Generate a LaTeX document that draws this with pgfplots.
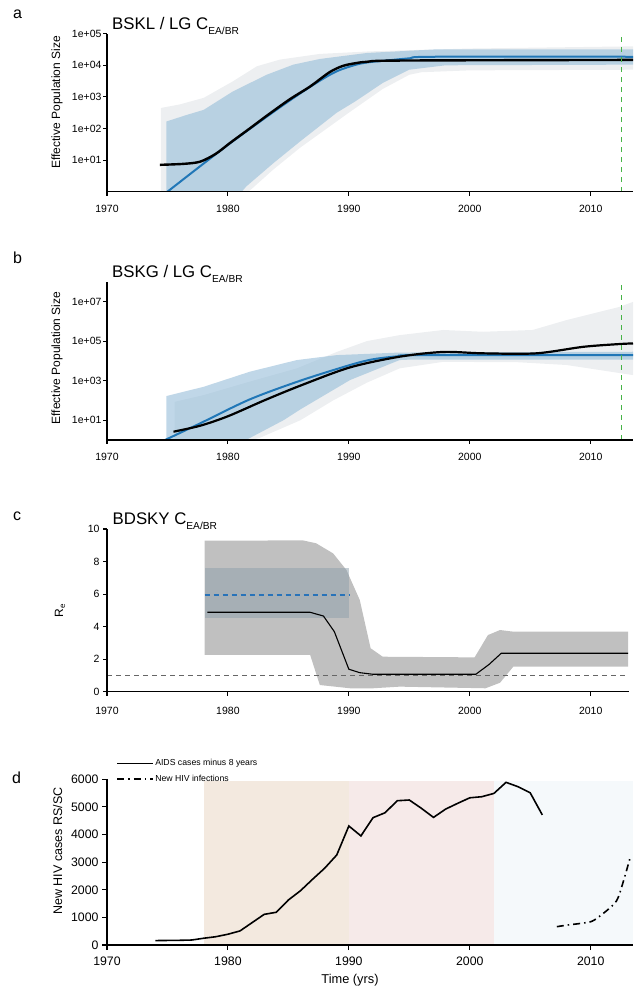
\documentclass[border=0pt]{standalone}
\usepackage{fontspec}
\setmainfont{Liberation Sans}
\usepackage{pgfplots}
\pgfplotsset{compat=1.18}
\definecolor{bandgrey}{RGB}{237,239,241}
\definecolor{bandblue}{RGB}{150,189,217}
\definecolor{lineblue}{RGB}{33,119,183}
\definecolor{vgreen}{RGB}{70,180,70}
\definecolor{cgrey}{RGB}{192,192,192}
\definecolor{cblue}{RGB}{142,160,172}
\definecolor{cdash}{RGB}{40,115,185}
\definecolor{dbeige}{RGB}{243,233,223}
\definecolor{dpink}{RGB}{246,234,233}
\definecolor{dblue}{RGB}{245,249,251}
\pgfplotsset{
 myaxis/.style={
   scale only axis, anchor=south west,
   axis lines=left,
   x axis line style={-}, y axis line style={-},
   axis line style={line width=1.1pt},
   tick align=outside, major tick length=4pt,
   tick style={line width=1.1pt, black},
   xtick={1970,1980,...,2010},
   /pgf/number format/1000 sep={},
   /pgf/number format/assume math mode=true,
   scaled y ticks=false,
   tick label style={font=\fontsize{10.5}{12}\selectfont},
   xticklabel style={yshift=-5.5pt},
   xmin=1970, xmax=2013.5, width=526pt,
   axis on top, clip mode=individual,
 },
}
\tikzset{ttl/.style={anchor=base west, font=\fontsize{16.8}{18}\selectfont, inner sep=0pt}}
\newcommand{\sub}[1]{\raisebox{-5pt}{\fontsize{10.2}{11}\selectfont #1}}
\begin{document}
\begin{tikzpicture}
\useasboundingbox (0,0) rectangle (633pt,988pt);
% ---------------- panel a
\begin{axis}[myaxis, at={(107pt,796.3pt)}, height=158pt,
  ymin=0, ymax=5, ytick={1,2,3,4,5},
  yticklabels={1e+01,1e+02,1e+03,1e+04,1e+05},
  yticklabel style={xshift=2pt},
  ylabel={Effective Population Size},
  ylabel style={at={(axis description cs:-0.095,0.565)}, anchor=center, font=\fontsize{12}{14}\selectfont}]
\addplot[draw=none, fill=bandgrey] coordinates {
 (1974.46,0.1) (1974.46,2.65) (1976.0,2.76) (1978.0,2.97) (1980.4,3.49) (1982.4,3.97) (1984.3,4.18)
 (1987.6,4.36) (1991.7,4.44) (1994.2,4.47) (2000,4.53) (2013.5,4.60)
 (2013.5,3.86) (2000,3.84) (1996,3.78) (1995,3.70) (1992.8,3.25) (1990,2.5) (1986,1.4)
 (1983.75,0.7) (1982,0.1) (1981,-0.2) (1976,-0.2) (1974.46,-0.2)} -- cycle;
\addplot[draw=none, fill=bandblue, fill opacity=0.6] coordinates {
 (1974.9,-0.3) (1974.9,2.22) (1976.6,2.43) (1978,2.59) (1980.4,3.17) (1983.2,3.70) (1985.4,4.02)
 (1987.6,4.2) (1991.5,4.39) (1997,4.5) (2013.5,4.5)
 (2013.5,4.02) (1998,4.0) (1995,3.86) (1992.8,3.44) (1990.5,2.85) (1989,2.5) (1986,1.6)
 (1983.75,0.9) (1981.5,0.16) (1980.5,-0.3)} -- cycle;
\addplot[lineblue, line width=2pt, smooth] coordinates {
 (1974.9,-0.03) (1980.0,1.48) (1984.6,2.75) (1987.3,3.44) (1989,3.81) (1990.6,4.02) (1991.7,4.10)
 (1992.8,4.14) (1995,4.22) (1997,4.27) (2013.5,4.27)};
\addplot[black, line width=2.4pt, smooth] coordinates {
 (1974.38,0.85) (1976.3,0.88) (1977.7,0.95) (1979.0,1.2) (1980.2,1.55) (1981.8,2.0) (1983.2,2.40)
 (1985.1,2.92) (1986.8,3.33) (1988.4,3.78) (1989.5,3.98) (1990.6,4.07) (1991.5,4.11) (1994.2,4.15) (2013.5,4.17)};
\addplot[draw=vgreen, color=vgreen, line width=1.6pt, dash pattern=on 4.5pt off 5.5pt] coordinates {(2012.54,0) (2012.54,5)};
\node[ttl] at (axis description cs:0.0095,1) [yshift=4.4pt] {BSKL / LG C\sub{EA/BR}};
\end{axis}
% ---------------- panel b
\begin{axis}[myaxis, at={(107pt,548pt)}, height=158.3pt,
  ymin=0, ymax=8, ytick={1,3,5,7},
  yticklabels={1e+01,1e+03,1e+05,1e+07},
  yticklabel style={xshift=2pt},
  ylabel={Effective Population Size},
  ylabel style={at={(axis description cs:-0.095,0.518)}, anchor=center, font=\fontsize{12}{14}\selectfont}]
\addplot[draw=none, fill=bandgrey] coordinates {
 (1975.6,-0.3) (1975.6,1.93) (1978,2.27) (1981.8,2.95) (1985.7,3.62) (1989,4.45) (1991.5,5.0)
 (1994.2,5.30) (1997.8,5.56) (2001.1,5.47) (2005.2,5.56) (2008,6.06) (2012.4,6.73) (2013.5,6.98)
 (2013.5,3.28) (2008,3.79) (2004,3.93) (1997.8,3.95) (1994.2,3.62) (1991.5,2.9) (1988.7,2.0)
 (1986,1.0) (1982.6,0.1) (1980,-0.3)} -- cycle;
\addplot[draw=none, fill=bandblue, fill opacity=0.6] coordinates {
 (1974.9,-0.3) (1974.9,2.22) (1978,2.69) (1981.8,3.45) (1985.7,4.04) (1989,4.29) (1994.2,4.42) (2013.5,4.46)
 (2013.5,4.06) (1995,4.06) (1994.2,4.04) (1990.1,3.03) (1986,1.55) (1984.6,1.0) (1981.5,0) (1980.5,-0.3)} -- cycle;
\addplot[lineblue, line width=2pt, smooth] coordinates {
 (1974.8,0) (1977.7,0.84) (1981.8,2.05) (1986,3.0) (1990.1,3.79) (1992,4.08) (1994.2,4.24) (1996,4.29) (2013.5,4.29)};
\addplot[black, line width=2.2pt, smooth] coordinates {
 (1975.5,0.42) (1977.7,0.72) (1980,1.2) (1983,2.0) (1986,2.75) (1990.1,3.67) (1994.2,4.21) (1997.8,4.45)
 (2001.1,4.38) (2005.5,4.38) (2009.4,4.71) (2012.4,4.85) (2013.5,4.88)};
\addplot[draw=vgreen, color=vgreen, line width=1.6pt, dash pattern=on 4.5pt off 5.5pt] coordinates {(2012.54,0) (2012.54,8)};
\node[ttl] at (axis description cs:0.0095,1) [yshift=4pt] {BSKG / LG C\sub{EA/BR}};
\end{axis}
% ---------------- panel c
\begin{axis}[myaxis, at={(107pt,296.3pt)}, height=162.7pt, xmax=2013.15, width=521.8pt,
  ymin=0, ymax=10, ytick={0,2,...,10},
  xticklabel style={yshift=-2pt},
  ylabel={R\textsubscript{e}},
  ylabel style={at={(axis description cs:-0.09,0.5)}, anchor=center, font=\fontsize{12}{14}\selectfont}]
\addplot[draw=none, fill=cgrey] coordinates {
 (1978.07,2.26) (1978.07,9.28) (1986.2,9.3) (1987.3,9.12) (1988.7,8.5) (1989.8,7.48) (1990.9,5.64)
 (1991.8,2.67) (1992.8,2.15) (2000.4,2.11) (2001.5,3.48) (2002.5,3.79) (2003.6,3.69) (2013.1,3.69)
 (2013.1,1.54) (2003.6,1.54) (2002.5,0.55) (2001.3,0.21) (1994.2,0.31) (1992,0.21) (1990.1,0.21)
 (1987.6,0.41) (1986.8,2.26)} -- cycle;
\addplot[draw=none, fill=cblue, fill opacity=0.5] coordinates {
 (1978.07,4.51) (1978.07,7.58) (1990,7.58) (1990,4.51)} -- cycle;
\addplot[draw=cdash, color=cdash, line width=1.2pt, dash pattern=on 5pt off 4pt] coordinates {(1978.07,5.94) (1990,5.94)};
\addplot[draw=black!60, line width=0.9pt, dash pattern=on 5pt off 4pt] coordinates {(1970,1) (2013.15,1)};
\addplot[black, line width=1.1pt] coordinates {
 (1978.3,4.88) (1986.8,4.88) (1987.9,4.65) (1988.8,3.69) (1990.0,1.38) (1990.9,1.17) (1992,1.07)
 (2000.5,1.07) (2001.6,1.68) (2002.6,2.36) (2013.1,2.36)};
\node[ttl] at (axis description cs:0.0105,1) [yshift=4pt] {BDSKY C\sub{EA/BR}};
\end{axis}
% ---------------- panel d
\begin{axis}[myaxis, at={(107pt,43pt)}, height=165.7pt,
  ymin=0, ymax=6000, ytick={0,1000,...,6000},
  tick label style={font=\fontsize{12.3}{14}\selectfont},
  xticklabel style={yshift=2pt},
  major tick length=5pt,
  ylabel={New HIV cases RS/SC},
  ylabel style={at={(axis description cs:-0.094,0.567)}, anchor=center, font=\fontsize{12.5}{14}\selectfont},
  xlabel={Time (yrs)},
  xlabel style={at={(axis description cs:0.462,0)}, anchor=center, yshift=-35pt, font=\fontsize{12.8}{14}\selectfont},
  legend cell align=left,
  legend image code/.code={\draw[#1] (0pt,0pt) -- (36pt,0pt);},
  legend style={draw=none, fill=none, at={(axis description cs:0.018,1.127)}, anchor=north west,
    font=\fontsize{8.7}{10}\selectfont, inner sep=0pt, row sep=6pt, nodes={inner sep=1pt}}]
\addplot[draw=none, fill=dbeige, forget plot] coordinates {(1978,0) (1990,0) (1990,5950) (1978,5950)} -- cycle;
\addplot[draw=none, fill=dpink, forget plot] coordinates {(1990,0) (2002,0) (2002,5950) (1990,5950)} -- cycle;
\addplot[draw=none, fill=dblue, forget plot] coordinates {(2002,0) (2013.5,0) (2013.5,5930) (2002,5930)} -- cycle;
\addplot[black, line width=1.6pt] coordinates {
 (1974,160) (1975,165) (1976,170) (1977,180) (1978,245) (1979,300) (1980,390) (1981,510) (1982,810)
 (1983,1110) (1984,1185) (1985,1630) (1986,1965) (1987,2380) (1988,2780) (1989,3260) (1990,4310)
 (1991,3950) (1992,4610) (1993,4790) (1994,5225) (1995,5250) (1996,4950) (1997,4620) (1998,4920)
 (1999,5130) (2000,5330) (2001,5370) (2002,5490) (2003,5890) (2004,5730) (2005,5510) (2006,4710)};
\addlegendentry{AIDS cases minus 8 years}
\addplot[black, line width=1.6pt, dash pattern=on 7pt off 4pt on 1.5pt off 4pt, smooth] coordinates {
 (2007.2,663) (2008.1,724) (2009.6,808) (2010.3,905) (2011.6,1350) (2012.3,1750) (2013.3,3220)};
\addlegendentry{New HIV infections}
\end{axis}
% panel letters
\node[anchor=base west, font=\fontsize{16}{18}\selectfont, inner sep=0pt] at (13pt,969pt) {a};
\node[anchor=base west, font=\fontsize{16}{18}\selectfont, inner sep=0pt] at (13pt,724pt) {b};
\node[anchor=base west, font=\fontsize{16}{18}\selectfont, inner sep=0pt] at (13pt,467.3pt) {c};
\node[anchor=base west, font=\fontsize{16}{18}\selectfont, inner sep=0pt] at (12pt,204.7pt) {d};
\end{tikzpicture}
\end{document}
